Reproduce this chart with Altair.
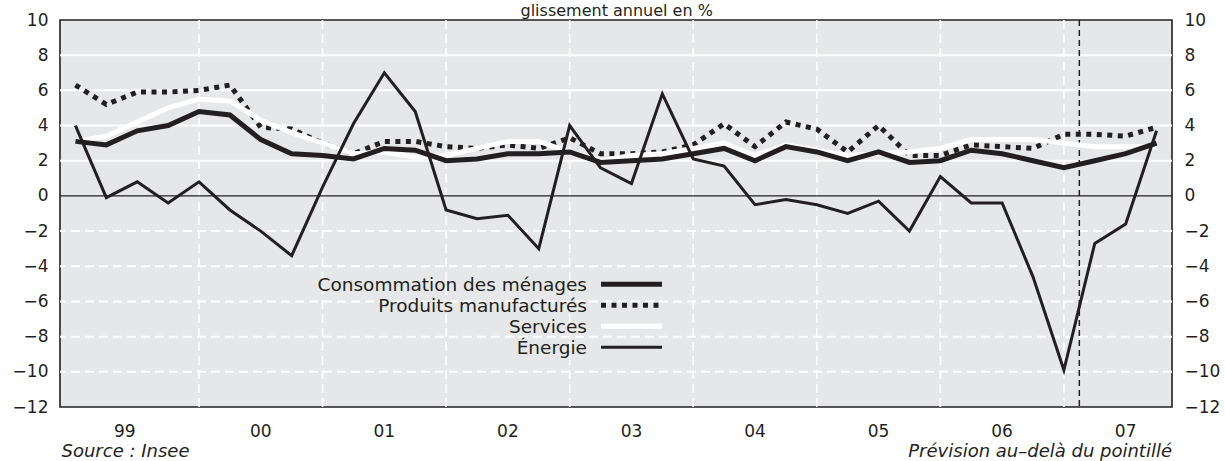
import altair as alt
import pandas as pd

# Quarterly index: 0 = 1999 T1 ... 35 = 2007 T4
trimestres = list(range(36))

# Year-on-year change, in %
consommation = [3.1, 2.9, 3.7, 4.0, 4.8, 4.6, 3.2, 2.4,
                2.3, 2.1, 2.7, 2.6, 2.0, 2.1, 2.4, 2.4,
                2.5, 1.9, 2.0, 2.1, 2.4, 2.7, 2.0, 2.8,
                2.5, 2.0, 2.5, 1.9, 2.0, 2.6, 2.4, 2.0,
                1.6, 2.0, 2.4, 3.0]
produits = [6.3, 5.2, 5.9, 5.9, 6.0, 6.3, 3.9, 3.8,
            3.0, 2.4, 3.1, 3.1, 2.8, 2.7, 2.9, 2.7,
            3.3, 2.4, 2.4, 2.5, 2.9, 4.1, 2.8, 4.2,
            3.8, 2.5, 4.0, 2.3, 2.3, 2.9, 2.8, 2.7,
            3.5, 3.5, 3.4, 3.9]
services = [3.1, 3.4, 4.2, 5.0, 5.5, 5.4, 4.3, 3.6,
            3.0, 2.4, 2.5, 2.2, 2.3, 2.7, 3.1, 3.1,
            2.5, 2.0, 2.3, 2.4, 2.7, 3.0, 2.3, 2.9,
            2.6, 2.3, 2.4, 2.5, 2.7, 3.2, 3.2, 3.2,
            3.0, 2.8, 2.8, 2.8]
energie = [4.0, -0.1, 0.8, -0.4, 0.8, -0.8, -2.0, -3.4,
           0.5, 4.1, 7.0, 4.8, -0.8, -1.3, -1.1, -3.0,
           4.0, 1.6, 0.7, 5.8, 2.1, 1.7, -0.5, -0.2,
           -0.5, -1.0, -0.3, -2.0, 1.1, -0.4, -0.4, -4.6,
           -9.9, -2.7, -1.6, 3.7]

annees = ["99", "00", "01", "02", "03", "04", "05", "06", "07"]
debut_annees = [4, 8, 12, 16, 20, 24, 28, 32]   # first quarter of each year from 2000
centre_annees = [1.6, 6, 10, 14, 18, 22, 26, 30, 34]
prevision_apres = 32.5                          # forecast starts after 2007 T1

graduations = list(range(-12, 11, 2))
grille_haut = [2, 4, 6, 8]
grille_bas = [-2, -4, -6, -8, -10]

legende = ["Consommation des ménages", "Produits manufacturés", "Services", "Énergie"]

INK = "#231f20"
FONT = "DejaVu Sans"

df = pd.DataFrame({
    "t": trimestres,
    "consommation": consommation,
    "produits": produits,
    "services": services,
    "energie": energie,
})

xscale = alt.Scale(domain=[-0.5, 35.5], nice=False, zero=False)
yscale = alt.Scale(domain=[-12, 10], nice=False, zero=False)


def yaxis(orient):
    return alt.Axis(orient=orient, values=graduations, domain=False, ticks=False,
                    grid=False, labelFont=FONT, labelFontSize=17, labelColor=INK,
                    labelPadding=12, title=None, format="d")


# Horizontal grid: solid above zero, dashed below; carries the two y axes
grid_haut = alt.Chart(pd.DataFrame({"v": grille_haut})).mark_rule(
    color="white", strokeWidth=2
).encode(y=alt.Y("v:Q", scale=yscale, axis=yaxis("left")))

grid_bas = alt.Chart(pd.DataFrame({"v": grille_bas})).mark_rule(
    color="white", strokeWidth=2, strokeDash=[9, 5]
).encode(y=alt.Y("v:Q", scale=yscale, axis=yaxis("right")))

grid_annees = alt.Chart(pd.DataFrame({"t": debut_annees})).mark_rule(
    color="white", strokeWidth=1.6, strokeDash=[9, 5]
).encode(x=alt.X("t:Q", scale=xscale, axis=None))

zero = alt.Chart(pd.DataFrame({"v": [0]})).mark_rule(
    color=INK, strokeWidth=1.3
).encode(y=alt.Y("v:Q", scale=yscale, axis=None))

prevision = alt.Chart(pd.DataFrame({"t": [prevision_apres]})).mark_rule(
    color=INK, strokeWidth=1.5, strokeDash=[6, 4]
).encode(x=alt.X("t:Q", scale=xscale, axis=None))

base = alt.Chart(df)


def serie(col, **style):
    return base.mark_line(**style).encode(
        x=alt.X("t:Q", scale=xscale, axis=None),
        y=alt.Y(f"{col}:Q", scale=yscale, axis=None),
    )


styles = {
    "produits": dict(color=INK, strokeWidth=5, strokeDash=[5, 5.5]),
    "services": dict(color="white", strokeWidth=5),
    "consommation": dict(color=INK, strokeWidth=5),
    "energie": dict(color=INK, strokeWidth=3),
}

lignes = [serie(c, **styles[c]) for c in ["produits", "services", "consommation", "energie"]]

# Year labels under the plot
labels_annees = alt.Chart(pd.DataFrame({"a": annees, "c": centre_annees})).mark_text(
    font=FONT, fontSize=17, color=INK, baseline="alphabetic", align="center"
).encode(x=alt.X("c:Q", scale=xscale, axis=None), y=alt.value(417.3), text="a:N")

titre = alt.Chart(pd.DataFrame({"s": ["glissement annuel en %"]})).mark_text(
    font=FONT, fontSize=16, color=INK, baseline="alphabetic", align="center"
).encode(x=alt.value(556.7), y=alt.value(-4.5), text="s:N")

source = alt.Chart(pd.DataFrame({"s": ["Source : Insee"]})).mark_text(
    font=FONT, fontSize=18, fontStyle="italic", color=INK, baseline="alphabetic", align="left"
).encode(x=alt.value(1.5), y=alt.value(437.3), text="s:N")

note = alt.Chart(pd.DataFrame({"s": ["Prévision au–delà du pointillé"]})).mark_text(
    font=FONT, fontSize=18, fontStyle="italic", color=INK, baseline="alphabetic", align="right"
).encode(x=alt.value(1112), y=alt.value(437.3), text="s:N")

# Hand-placed legend inside the plot
legende_layers = []
cles = ["consommation", "produits", "services", "energie"]
for i, (lab, cle) in enumerate(zip(legende, cles)):
    yc = 264.3 + 21 * i
    legende_layers.append(
        alt.Chart(pd.DataFrame({"s": [lab]})).mark_text(
            font=FONT, fontSize=18.5, color=INK, baseline="alphabetic", align="right"
        ).encode(x=alt.value(527), y=alt.value(yc + 6.5), text="s:N")
    )
    legende_layers.append(
        alt.Chart(pd.DataFrame({"s": [lab]})).mark_rule(**styles[cle]).encode(
            x=alt.value(541), x2=alt.value(602), y=alt.value(yc)
        )
    )

chart = alt.layer(
    grid_haut, grid_bas, grid_annees, zero, prevision,
    *lignes, *legende_layers, labels_annees, titre, source, note,
).resolve_axis(y="independent").properties(
    width=1112, height=387,
    autosize=alt.AutoSizeParams(type="none"),
    padding={"left": 60, "top": 20, "right": 53, "bottom": 54},
    background="white",
).configure_view(fill="#e6e7e8", stroke=INK, strokeWidth=1.6)

chart.save("out.html", embed_options={"renderer": "svg", "actions": False})
